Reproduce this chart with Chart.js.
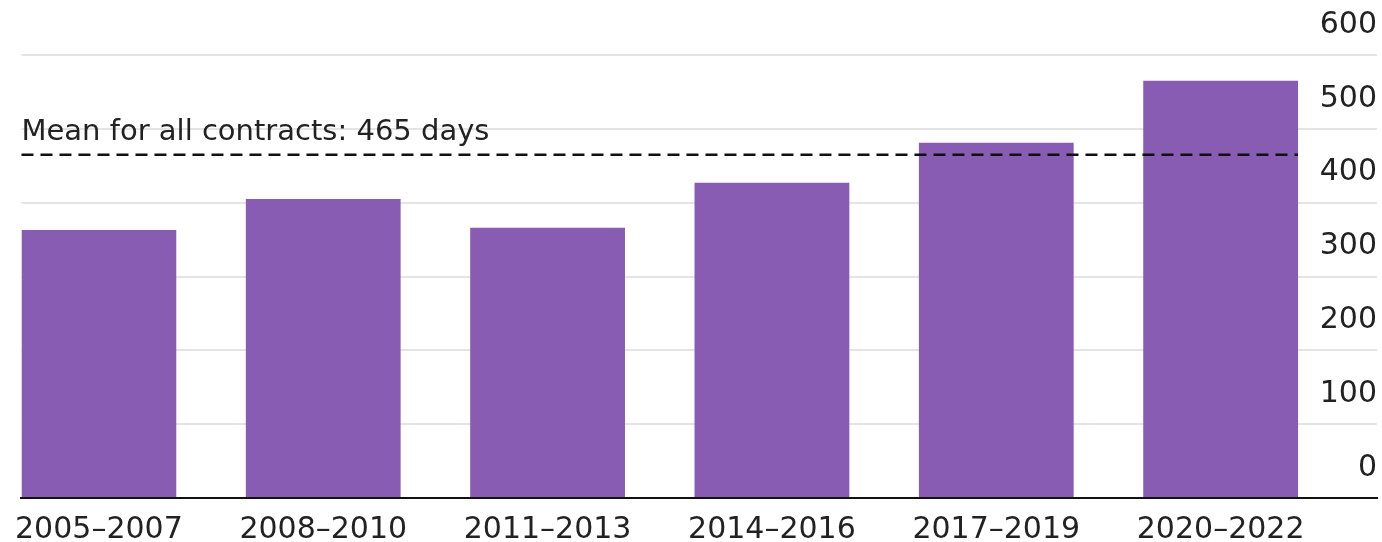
<!DOCTYPE html>
<html>
<head>
<meta charset="utf-8">
<script src="https://cdn.jsdelivr.net/npm/chart.js@4"></script>
<style>
  html, body { margin: 0; padding: 0; background: #fff; }
  #wrap { width: 1382px; height: 542px; }
</style>
</head>
<body>
<div id="wrap"><canvas id="grafica" width="1382" height="542"></canvas></div>
<script>
const periods = ["2005–2007", "2008–2010", "2011–2013", "2014–2016", "2017–2019", "2020–2022"];
const days = [363, 405, 366, 427, 481, 565];
const yTicks = [0, 100, 200, 300, 400, 500, 600];
const meanDays = 465;
const meanLabel = "Mean for all contracts: 465 days";

const FONT = "'DejaVu Sans', sans-serif";

// dashed mean line + its label, placed through the scales
const meanLine = {
  id: "meanLine",
  afterDatasetsDraw(chart) {
    const ctx = chart.ctx;
    const bars = chart.getDatasetMeta(0).data;
    const first = bars[0], last = bars[bars.length - 1];
    const x0 = first.x - first.width / 2;
    const x1 = last.x + last.width / 2;
    const y = chart.scales.y.getPixelForValue(meanDays);
    ctx.save();
    ctx.strokeStyle = "#111";
    ctx.lineWidth = 2.5;
    ctx.setLineDash([12, 7]);
    ctx.beginPath();
    ctx.moveTo(x0, y);
    ctx.lineTo(x1, y);
    ctx.stroke();
    ctx.setLineDash([]);
    ctx.fillStyle = "#222";
    ctx.font = "29px " + FONT;
    ctx.textAlign = "left";
    ctx.textBaseline = "middle";
    ctx.fillText(meanLabel, x0, y - 22);
    ctx.restore();
  }
};

new Chart(document.getElementById("grafica"), {
  type: "bar",
  data: {
    datasets: [{
      data: days.map((d, i) => ({ x: i, y: d })),
      backgroundColor: "#885cb2",
      borderWidth: 0,
      barPercentage: 0.69,
      categoryPercentage: 1
    }]
  },
  options: {
    responsive: false,
    animation: false,
    layout: { padding: { left: 18, right: 5, top: 55, bottom: 0 } },
    plugins: { legend: { display: false }, tooltip: { enabled: false } },
    scales: {
      x: {
        type: "linear",
        offset: false,
        min: -0.345,
        max: 5.697,
        afterBuildTicks: (axis) => { axis.ticks = periods.map((p, i) => ({ value: i })); },
        afterFit: (axis) => { axis.height = 44; },
        grid: { display: false, drawTicks: false },
        border: { display: true, color: "#111", width: 2 },
        ticks: {
          autoSkip: false,
          maxRotation: 0,
          padding: 14,
          color: "#222",
          font: { family: FONT, size: 30 },
          callback: (v) => periods[v]
        }
      },
      y: {
        position: "right",
        min: 0,
        max: 600,
        afterBuildTicks: (axis) => { axis.ticks = yTicks.map(v => ({ value: v })); },
        grid: { color: "#e4e4e4", lineWidth: 2, drawTicks: false },
        border: { display: false },
        ticks: {
          mirror: true,
          padding: 0,
          labelOffset: -30,
          color: "#222",
          font: { family: FONT, size: 30 }
        }
      }
    }
  },
  plugins: [meanLine]
});
</script>
</body>
</html>
